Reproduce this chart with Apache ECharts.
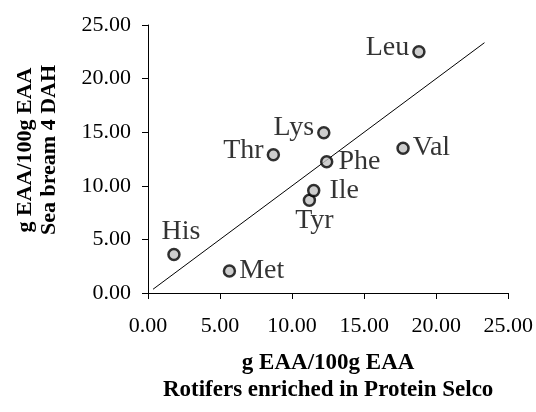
<!DOCTYPE html>
<html>
<head>
<meta charset="utf-8">
<script src="https://cdn.jsdelivr.net/npm/echarts@6/dist/echarts.min.js"></script>
<style>
  html, body { margin: 0; padding: 0; background: #fff; }
  #chart { width: 536px; height: 412px; }
</style>
</head>
<body>
<div id="chart"></div>
<script>
// Essential amino acid profiles: rotifers (x) vs. sea bream larvae (y)
const aminoAcids = ['His', 'Met', 'Thr', 'Tyr', 'Ile', 'Phe', 'Lys', 'Val', 'Leu'];
const rotifers   = [1.8, 5.65, 8.7, 11.2, 11.5, 12.4, 12.2, 17.7, 18.8];
const seaBream   = [3.6, 2.05, 12.9, 8.65, 9.55, 12.25, 14.95, 13.5, 22.5];
// 1:1 reference line
const identityLine = [[0.35, 0.35], [23.35, 23.35]];
const axisTicks = [0, 5, 10, 15, 20, 25];

// label placement around each marker (styling only)
const labelSides   = ['top', 'right', 'left', 'bottom', 'right', 'right', 'left', 'right', 'left'];
const labelNudges  = [[7, 1], [0, 0], [0, -4], [5, -3], [6, 0], [2, 0], [0, -5], [0, -1], [0, -4]];

const serif = '"Liberation Serif", "Times New Roman", serif';

const points = aminoAcids.map((name, i) => ({
  name: name,
  value: [rotifers[i], seaBream[i]],
  label: { position: labelSides[i], offset: labelNudges[i] }
}));

const chart = echarts.init(document.getElementById('chart'), null, { renderer: 'canvas' });

const axisCommon = {
  min: axisTicks[0],
  max: axisTicks[axisTicks.length - 1],
  interval: axisTicks[1] - axisTicks[0],
  splitLine: { show: false },
  axisLine: { show: true, onZero: false, lineStyle: { color: '#000', width: 1 } },
  axisTick: { show: true, inside: false, length: 6, lineStyle: { color: '#000', width: 1 } },
  axisLabel: {
    color: '#000', fontFamily: serif, fontSize: 22,
    formatter: v => v.toFixed(2)
  },
  nameLocation: 'middle'
};

chart.setOption({
  animation: false,
  backgroundColor: '#fff',
  grid: { left: 148, right: 27, top: 25, bottom: 119, containLabel: false },
  xAxis: Object.assign({}, axisCommon, {
    type: 'value',
    name: 'g EAA/100g EAA\nRotifers enriched in Protein Selco',
    nameGap: 57,
    nameTextStyle: { color: '#000', fontFamily: serif, fontSize: 23, fontWeight: 'bold', lineHeight: 27 },
    axisLabel: Object.assign({}, axisCommon.axisLabel, { margin: 22 })
  }),
  yAxis: Object.assign({}, axisCommon, {
    type: 'value',
    name: 'g EAA/100g EAA\nSea bream 4 DAH',
    nameRotate: 90,
    nameGap: 87,
    nameTextStyle: {
      color: '#000', fontFamily: serif, fontSize: 22, fontWeight: 'bold', lineHeight: 24,
      padding: [0, 0, 0, 18]
    },
    axisLabel: Object.assign({}, axisCommon.axisLabel, { margin: 17 })
  }),
  series: [
    {
      type: 'line',
      data: identityLine,
      symbol: 'none',
      silent: true,
      lineStyle: { color: '#000', width: 1 },
      z: 1
    },
    {
      type: 'scatter',
      data: points,
      symbol: 'circle',
      symbolSize: 11,
      itemStyle: { color: '#c0c0c0', borderColor: '#000', borderWidth: 2.5 },
      label: {
        show: true,
        formatter: p => p.name,
        color: '#000',
        fontFamily: serif,
        fontSize: 28,
        distance: 3
      },
      z: 2
    }
  ]
});
</script>
</body>
</html>
